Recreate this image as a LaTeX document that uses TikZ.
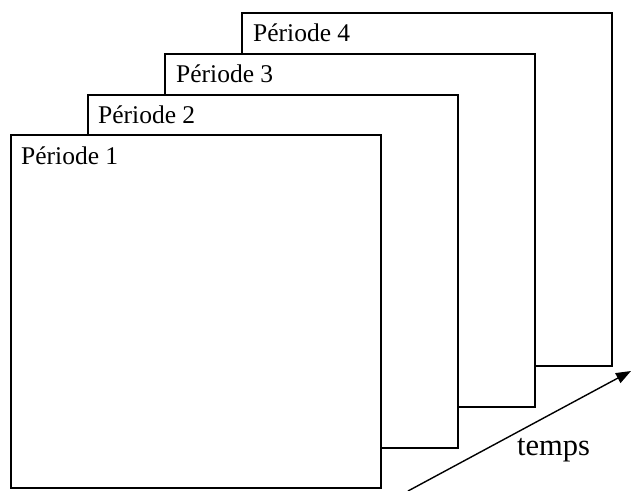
\documentclass[tikz,border=0pt]{standalone}
\usepackage{fontspec}
\setmainfont{Liberation Serif}
\usetikzlibrary{arrows.meta}
\begin{document}
\begin{tikzpicture}[x=1pt,y=-1pt,
  period/.style={draw=black,fill=white,line width=2pt,minimum width=370pt,minimum height=353pt,anchor=north west,inner sep=0pt,outer sep=0pt},
  plabel/.style={anchor=base west,inner sep=0pt,font=\fontsize{25.5pt}{30pt}\selectfont}]
\useasboundingbox (0,0) rectangle (631,490);
\node[period] (p4) at (242,13) {};
\node[plabel] (l4) at (253,41) {Période 4};
\node[period] (p3) at (165,54) {};
\node[plabel] (l3) at (176,82) {Période 3};
\node[period] (p2) at (88,95) {};
\node[plabel] (l2) at (98,123) {Période 2};
\node[period] (p1) at (11,135) {};
\node[plabel] (l1) at (21,164) {Période 1};
\coordinate (ts) at (408,491);
\coordinate (te) at (631,371);
\draw[line width=1.4pt,-{Triangle[length=15pt,width=11pt]}] (ts) -- (te);
\node[anchor=base west,inner sep=0pt,font=\fontsize{30.5pt}{36pt}\selectfont] (t) at (517,455) {temps};
\end{tikzpicture}
\end{document}
